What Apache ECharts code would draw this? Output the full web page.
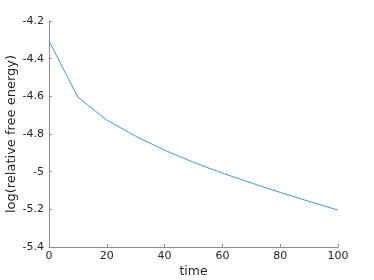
<!DOCTYPE html>
<html>
<head>
<meta charset="utf-8">
<script src="https://cdn.jsdelivr.net/npm/echarts@6/dist/echarts.min.js"></script>
<style>html,body{margin:0;padding:0;background:#fff}#c{width:374px;height:280px}</style>
</head>
<body>
<div id="c"></div>
<script>
const times = [0, 10, 20, 30, 40, 50, 60, 70, 80, 90, 100];
const logFreeEnergy = [-4.306, -4.605, -4.726, -4.812, -4.886, -4.950, -5.008, -5.060, -5.110, -5.158, -5.204];
const xLabelName = 'time';
const yLabelName = 'log(relative free energy)';

const chart = echarts.init(document.getElementById('c'), null, {renderer: 'canvas'});
const font = 'DejaVu Sans';
const axisColor = '#8c8c8c';
const textColor = '#262626';
chart.setOption({
  animation: false,
  grid: {left: 49, right: 36, top: 21, bottom: 33, containLabel: false, outerBoundsMode: 'none'},
  xAxis: {
    type: 'value', min: 0, max: 100, interval: 20,
    name: xLabelName, nameLocation: 'middle', nameGap: 18, nameMoveOverlap: false,
    nameTextStyle: {fontFamily: font, fontSize: 12.5, color: textColor},
    axisLine: {lineStyle: {color: axisColor, width: 1}},
    axisTick: {inside: true, length: 3, lineStyle: {color: axisColor}},
    axisLabel: {fontFamily: font, fontSize: 11, color: textColor, margin: 4},
    splitLine: {show: false}
  },
  yAxis: {
    type: 'value', min: -5.4, max: -4.2, interval: 0.2,
    name: yLabelName, nameLocation: 'middle', nameGap: 31, nameMoveOverlap: false,
    nameTextStyle: {fontFamily: font, fontSize: 13, color: textColor},
    axisLine: {show: true, lineStyle: {color: axisColor, width: 1}},
    axisTick: {show: true, inside: true, length: 3, lineStyle: {color: axisColor}},
    axisLabel: {fontFamily: font, fontSize: 11, color: textColor, margin: 5,
      formatter: v => String(Math.round(v * 10) / 10)},
    splitLine: {show: false}
  },
  series: [{
    type: 'line',
    data: times.map((t, i) => [t, logFreeEnergy[i]]),
    showSymbol: false,
    lineStyle: {color: '#3d98d0', width: 1},
    silent: true
  }]
});
</script>
</body>
</html>
